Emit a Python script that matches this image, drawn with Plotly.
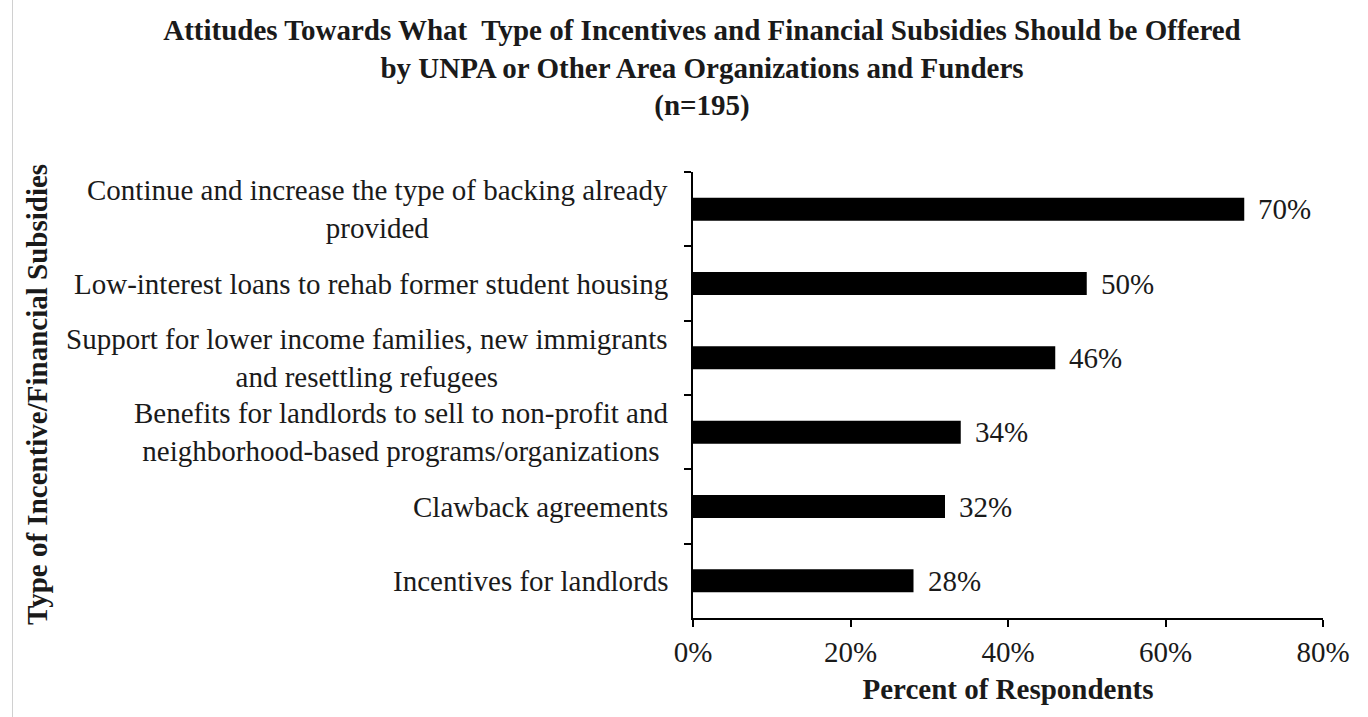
import plotly.graph_objects as go

categories = [
    "Continue and increase the type of backing already<br>provided",
    "Low-interest loans to rehab former student housing",
    "Support for lower income families, new immigrants<br>and resettling refugees",
    "Benefits for landlords to sell to non-profit and<br>neighborhood-based programs/organizations",
    "Clawback agreements",
    "Incentives for landlords",
]
values = [0.70, 0.50, 0.46, 0.34, 0.32, 0.28]
value_labels = ["70%", "50%", "46%", "34%", "32%", "28%"]
x_tick_values = [0, 0.2, 0.4, 0.6, 0.8]
x_tick_labels = ["0%", "20%", "40%", "60%", "80%"]

title_text = ("Attitudes Towards What  Type of Incentives and Financial Subsidies Should be Offered"
              "<br>by UNPA or Other Area Organizations and Funders<br>(n=195)")
x_title = "Percent of Respondents"
y_title = "Type of Incentive/Financial Subsidies"

W, H = 1368, 717
ML, MR, MT, MB = 693, 45, 172, 99
PW = W - ML - MR
PH = H - MT - MB

FONT = "Liberation Serif, Times New Roman, serif"
FS = 29
TXT = "#1a1a1a"

fig = go.Figure()
fig.add_trace(go.Bar(
    x=values, y=categories, orientation="h",
    marker=dict(color="black", line=dict(width=0)),
    hoverinfo="x+y",
))

annotations = []
for cat in categories:
    annotations.append(dict(
        x=0, xref="paper", y=cat, yref="y", text=cat, showarrow=False,
        xanchor="right", yanchor="middle", xshift=-23, align="center",
        font=dict(family=FONT, size=FS, color=TXT),
    ))
for cat, v, lab in zip(categories, values, value_labels):
    annotations.append(dict(
        x=v, xref="x", y=cat, yref="y", text=lab, showarrow=False,
        xanchor="left", yanchor="middle", xshift=12,
        font=dict(family=FONT, size=FS, color=TXT),
    ))
annotations.append(dict(
    x=(37 - ML) / PW, xref="paper", y=0.5, yref="paper", text="<b>" + y_title + "</b>",
    showarrow=False, textangle=-90, xanchor="center", yanchor="middle",
    font=dict(family=FONT, size=FS, color=TXT),
))

fig.update_layout(
    width=W, height=H,
    margin=dict(l=ML, r=MR, t=MT, b=MB),
    paper_bgcolor="white", plot_bgcolor="white",
    bargap=0.69,
    showlegend=False,
    font=dict(family=FONT, size=FS, color=TXT),
    title=dict(
        text="<b>" + title_text + "</b>",
        x=702 / W, xanchor="center", y=1 - 40 / H, yanchor="middle",
        font=dict(family=FONT, size=FS, color=TXT),
    ),
    annotations=annotations,
    shapes=[dict(
        type="line", xref="paper", yref="paper",
        x0=(12.5 - ML) / PW, x1=(12.5 - ML) / PW,
        y0=-MB / PH, y1=(PH + MT) / PH,
        line=dict(color="#d0d0d0", width=1),
    )],
)

fig.update_xaxes(
    range=[0, 0.8], tickvals=x_tick_values, ticktext=x_tick_labels,
    showline=True, linecolor="black", linewidth=2,
    ticks="outside", ticklen=7, tickwidth=2, tickcolor="black",
    showgrid=False, zeroline=False,
    tickfont=dict(family=FONT, size=FS, color=TXT),
    title=dict(text="<b>" + x_title + "</b>", font=dict(family=FONT, size=FS, color=TXT), standoff=12),
)
fig.update_yaxes(
    categoryorder="array", categoryarray=categories, autorange="reversed",
    showline=True, linecolor="black", linewidth=2,
    ticks="outside", ticklen=7, tickwidth=2, tickcolor="black",
    tickson="boundaries", showticklabels=False,
    showgrid=False, zeroline=False,
)

fig.write_html("out.html")
